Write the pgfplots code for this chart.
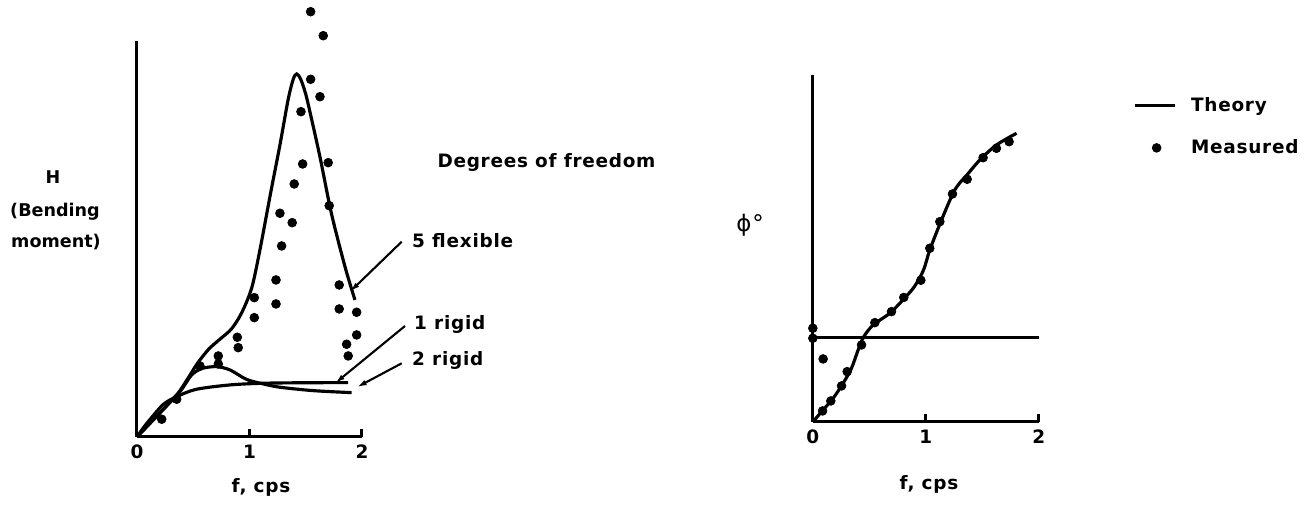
\documentclass[border=0pt]{standalone}
\usepackage{fontspec}
\setmainfont{DejaVu Sans}[LetterSpace=4]
\usepackage{pgfplots}
\pgfplotsset{compat=1.18}
\usetikzlibrary{arrows.meta}

\newcommand\lbl{\fontsize{10.5}{12.6}\selectfont\bfseries}

\pgfplotsset{
  fig/.style={
    scale only axis, clip=false,
    axis x line=bottom, axis y line=left,
    axis line style={-, line width=1.7pt},
    xmin=0, xmax=2, ymin=0,
    xtick={0,1,2}, ytick=\empty,
    tick align=inside, major tick length=0.16cm,
    tick style={line width=1.7pt, black},
    xticklabel style={anchor=center, yshift=-0.294cm, font=\lbl},
    /pgf/number format/assume math mode=true,
  },
  theory/.style={black, line width=1.8pt, no marks, smooth},
  meas/.style={black, only marks, mark=*, mark size=2.5pt,
    mark options={line width=0.4pt}},
}

\begin{document}
\begin{tikzpicture}[x=0.02cm, y=-0.02cm, font=\lbl]
\useasboundingbox (0,0) rectangle (1305,505);

% ---- bending moment response H ----
\begin{axis}[fig, at={(2.74cm,-8.74cm)}, anchor=south west,
  width=4.5cm, height=7.92cm, ymax=396]
  % 5 degrees of freedom, flexible hull
  \addplot[theory] coordinates {
    (0,0) (0.2,23.6) (0.36,43) (0.45,58) (0.54,74) (0.64,88)
    (0.74,98) (0.84,108) (0.93,124) (1.02,149) (1.093,187) (1.19,245)
    (1.271,292) (1.345,338) (1.39,358) (1.42,363) (1.455,358) (1.5,343)
    (1.538,325) (1.627,280) (1.716,230) (1.78,200) (1.86,166) (1.938,137)};
  % 1 degree of freedom, rigid
  \addplot[theory] coordinates {
    (0,0) (0.056,9) (0.116,17.5) (0.234,32.5) (0.353,40.3) (0.531,47.7)
    (0.827,52) (1.123,53.7) (1.5,54.2) (1.878,54.3)};
  % 2 degrees of freedom, rigid
  \addplot[theory] coordinates {
    (0,0) (0.2,23.6) (0.382,45.3) (0.486,62) (0.58,68.5) (0.708,70.3)
    (0.827,67) (0.975,57.5) (1.123,53) (1.271,49.7) (1.567,46.3) (1.908,44.3)};
  % measured
  \addplot[meas] coordinates {
    (1.544,425.3) (1.656,401.3) (1.544,357.7) (1.627,340.3) (1.458,325.3)
    (1.473,273) (1.7,274.3) (1.398,253) (1.709,231.3) (1.271,223.7)
    (1.38,214.3) (1.286,191) (1.236,157) (1.043,139.3) (1.236,133)
    (1.043,119.3) (0.892,99.7) (0.9,89.3) (0.723,81) (0.723,73) (0.56,71)
    (0.353,37.7) (0.22,17.7) (1.798,152) (1.798,128) (1.953,124.7)
    (1.953,102) (1.864,92.7) (1.878,81)};
\end{axis}

% ---- phase angle ----
\begin{axis}[fig, at={(16.26cm,-8.44cm)}, anchor=south west,
  width=4.52cm, height=6.94cm, ymax=347,
  legend style={at={(1.416,0.9375)}, anchor=north west, draw=none, fill=none,
    inner sep=0pt, row sep=0.49cm, column sep=0.3cm,
    nodes={inner sep=0pt, text height=8pt, text depth=2pt, anchor=west},
    font=\lbl},
  legend cell align=left]
  \addlegendimage{legend image code/.code={
    \draw[line width=1.7pt] (0cm,0cm) -- (0.8cm,0cm);}}
  \addlegendentry{Theory}
  \addlegendimage{black, only marks, mark=*, mark size=2.5pt,
    legend image code/.code={
      \draw[mark repeat=2, mark phase=2] plot coordinates {(0cm,0cm) (0.44cm,0cm) (0.8cm,0cm)};}}
  \addlegendentry{Measured}
  \addplot[theory, forget plot] coordinates {
    (0,0) (0.091,12) (0.18,23.7) (0.268,38.7) (0.342,53.7) (0.401,72)
    (0.451,85.3) (0.534,97) (0.681,108.7) (0.805,123) (0.9,135.5)
    (0.98,152) (1.035,172) (1.139,202) (1.242,229) (1.3,239) (1.36,246.5)
    (1.478,262) (1.625,277) (1.803,288.7)};
  \addplot[black, line width=1.7pt, forget plot] coordinates {(0,84) (2,84)};
  \addplot[meas, forget plot] coordinates {
    (0,93.7) (0,83.7) (0.091,63) (0.086,11) (0.159,21) (0.254,36)
    (0.304,50.3) (0.431,77) (0.549,99.3) (0.696,110.3) (0.805,124.5)
    (0.956,141.7) (1.035,173.7) (1.124,200.3) (1.236,228) (1.366,242.7)
    (1.507,264.3) (1.625,273.7) (1.737,280.3)};
\end{axis}

% labels
\begin{scope}[font=\fontsize{10}{12}\selectfont\bfseries\addfontfeature{LetterSpace=0}]
\node at (53,177) {H};
\node at (55,212) {(Bending};
\node at (56,242) {moment)};
\end{scope}
\node at (261,487) {f, cps};
\node at (929,484) {f, cps};
\node[font=\fontsize{13}{15}\selectfont] at (750,225) {ϕ°};
\node at (546.5,162) {Degrees of freedom};

% curve callouts
\node[anchor=west] at (406,240.7) {5 flexible};
\node[anchor=west] at (408,324) {1 rigid};
\node[anchor=west] at (406,360.7) {2 rigid};
\draw[line width=1.2pt, -{Latex[length=0.2cm, width=0.11cm]}] (401.7,241.7) -- (350,291.7);
\draw[line width=1.2pt, -{Latex[length=0.2cm, width=0.11cm]}] (405,326) -- (335,383.3);
\draw[line width=1.2pt, -{Latex[length=0.2cm, width=0.11cm]}] (401.7,363.3) -- (356.7,387.3);
\end{tikzpicture}
\end{document}
